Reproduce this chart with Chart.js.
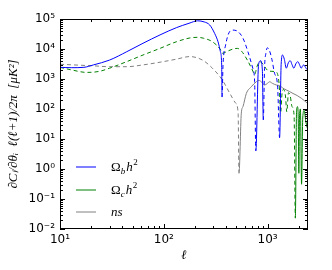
<!DOCTYPE html>
<html><head><meta charset="utf-8">
<script src="https://cdn.jsdelivr.net/npm/chart.js@4.4.1/dist/chart.umd.min.js"></script>
<style>html,body{margin:0;padding:0;background:#fff;}#wrap{width:332px;height:270px;}</style>
</head><body><div id="wrap"><canvas id="c" width="332" height="270"></canvas></div>
<script>
// ---- data (negative value = drawn dashed, |value| plotted) ----
const xTickValues = [10, 100, 1000];
const xTickLabels = ['10¹', '10²', '10³'];
const yTickValues = [1e-2, 1e-1, 1, 10, 100, 1e3, 1e4, 1e5];
const yTickLabels = ['10⁻²', '10⁻¹', '10⁰', '10¹', '10²', '10³', '10⁴', '10⁵'];
const seriesNames = ['Ωb h²', 'Ωc h²', 'ns'];

const ellOmegaB = [10,13,17,21,30,44,63,92,132,175,212,245,277,309,333,351,361,364,372,394,431,464,518,579,646,720,750,770,818,857,890,909,935,965,995,1040,1100,1167,1247,1305,1350,1395,1450,1514,1585,1653,1720,1790,1870,1955,2030,2108,2170,2233,2310,2388,2450];
const valOmegaB = [2450,2380,2450,2950,4270,8130,15500,29500,51300,72000,87000,80000,63000,33000,17400,8130,2950,250,-2950,-13500,-38000,-42700,-38000,-22900,-8130,-2290,-810,-4,3000,4070,2000,43,-2500,-7500,-11000,-9000,-4500,-1550,-600,-11,3000,6300,4500,2290,3500,4070,3000,2290,3200,3800,3000,2290,2700,2950,2500,2140,2400];

const ellOmegaC = [10,13,18,24,30,44,63,92,132,180,211,240,294,353,366,412,465,511,560,638,713,750,790,840,900,990,1100,1195,1290,1334,1380,1430,1490,1530,1590,1650,1720,1800,1850,1900,1941,1975,2000,2030,2070,2124,2180,2250,2330,2400,2450];
const valOmegaC = [-2450,-2000,-1660,-1800,-2290,-3800,-6300,-10500,-17400,-23500,-24500,-23000,-17400,-9300,-7200,-8500,-10000,-10500,-8500,-4270,-2000,-1400,-2600,-3800,-3200,-2000,-1800,-1740,-700,-75,-350,-450,-250,-80,-350,-280,-120,-60,-0.023,80,120,40,0.72,60,100,0.31,50,90,40,25,20];

const ellNs = [10,15,21,30,44,63,92,132,178,236,294,366,441,494,520,530,558,579,624,696,778,824,880,935,990,1045,1110,1213,1308,1400,1514,1630,1755,1930,2108,2300,2450];
const valNs = [-3100,-2900,-2750,-2570,-2570,-2950,-3630,-4570,-5600,-4270,-2290,-930,-295,-155,-72,-0.72,72,120,330,550,810,900,780,630,700,810,720,630,600,500,430,380,330,280,230,180,150];

const seriesColors = ['#0000ff', '#008000', '#808080'];

function makeDataset(ell, vals, color, label) {
  return {
    label: label,
    data: ell.map((l, i) => ({ x: l, y: Math.abs(vals[i]) })),
    borderColor: color,
    backgroundColor: color,
    borderWidth: 1,
    pointRadius: 0,
    fill: false,
    cubicInterpolationMode: 'monotone',
    segment: { borderDash: ctx => (vals[ctx.p1DataIndex] < 0 ? [4, 3] : []) }
  };
}

const frame = {
  id: 'frame',
  afterDatasetsDraw(chart) {
    const { ctx, chartArea: a, scales: { x, y } } = chart;
    ctx.save();
    ctx.setLineDash([]);
    ctx.strokeStyle = '#000';
    ctx.lineWidth = 1;
    ctx.beginPath();
    for (let e = 1; e <= 3; e++) for (let k = 1; k < 10; k++) {
      const v = k * Math.pow(10, e);
      if (v < x.min || v > x.max) continue;
      const px = Math.round(x.getPixelForValue(v)) + 0.5;
      const len = k === 1 ? 5 : 3;
      ctx.moveTo(px, a.bottom); ctx.lineTo(px, a.bottom - len);
      ctx.moveTo(px, a.top); ctx.lineTo(px, a.top + len);
    }
    for (let e = -2; e <= 5; e++) for (let k = 1; k < 10; k++) {
      const v = k * Math.pow(10, e);
      if (v < y.min * 0.999 || v > y.max * 1.001) continue;
      const py = Math.round(y.getPixelForValue(v)) + 0.5;
      const len = k === 1 ? 5 : 3;
      ctx.moveTo(a.left, py); ctx.lineTo(a.left + len, py);
      ctx.moveTo(a.right, py); ctx.lineTo(a.right - len, py);
    }
    ctx.stroke();
    ctx.strokeRect(a.left + 0.5, a.top + 0.5, a.right - a.left - 1, a.bottom - a.top - 1);
    // legend
    const lx = a.left + 16, ly0 = a.top + 148, dy = 22.5;
    seriesNames.forEach((name, i) => {
      const yy = Math.round(ly0 + i * dy);
      ctx.strokeStyle = seriesColors[i];
      ctx.beginPath(); ctx.moveTo(lx, yy); ctx.lineTo(lx + 20, yy); ctx.stroke();
      ctx.fillStyle = '#000';
      ctx.textBaseline = 'alphabetic';
      let tx = lx + 35;
      const base = yy + 4;
      if (i < 2) {
        ctx.font = '13px "Liberation Serif"';
        ctx.fillText('Ω', tx, base); tx += ctx.measureText('Ω').width;
        ctx.font = 'italic 9px "Liberation Serif"';
        const sub = i === 0 ? 'b' : 'c';
        ctx.fillText(sub, tx, base + 3); tx += ctx.measureText(sub).width + 1;
        ctx.font = 'italic 13px "Liberation Serif"';
        ctx.fillText('h', tx, base); tx += ctx.measureText('h').width;
        ctx.font = '9px "Liberation Serif"';
        ctx.fillText('2', tx + 0.5, base - 6);
      } else {
        ctx.font = 'italic 13px "Liberation Serif"';
        ctx.fillText('ns', tx, base);
      }
    });
    ctx.restore();
  }
};

new Chart(document.getElementById('c'), {
  type: 'line',
  data: {
    datasets: [
      makeDataset(ellOmegaB, valOmegaB, seriesColors[0], seriesNames[0]),
      makeDataset(ellOmegaC, valOmegaC, seriesColors[1], seriesNames[1]),
      makeDataset(ellNs, valNs, seriesColors[2], seriesNames[2])
    ]
  },
  options: {
    responsive: false,
    animation: false,
    layout: { padding: { top: 19, right: 24, left: 0, bottom: 0 } },
    plugins: { legend: { display: false }, tooltip: { enabled: false } },
    scales: {
      x: {
        type: 'logarithmic', min: 10, max: 2450,
        afterBuildTicks: s => { s.ticks = xTickValues.map(v => ({ value: v })); },
        afterFit: s => { s.height = 41; },
        grid: { display: false, drawTicks: false },
        border: { display: false },
        ticks: { autoSkip: false, maxRotation: 0, padding: 4, color: '#000',
          font: { family: 'DejaVu Sans', size: 12 },
          callback: (v, i) => xTickLabels[i] },
        title: { display: true, text: 'ℓ', color: '#000', padding: { top: 0, bottom: 7 },
          font: { family: 'Liberation Serif', style: 'italic', size: 13 } }
      },
      y: {
        type: 'logarithmic', min: 1e-2, max: 1e5,
        afterBuildTicks: s => { s.ticks = yTickValues.map(v => ({ value: v })); },
        afterFit: s => { s.width = 60; },
        grid: { display: false, drawTicks: false },
        border: { display: false },
        ticks: { autoSkip: false, padding: 5, color: '#000',
          font: { family: 'DejaVu Sans', size: 12 },
          callback: (v, i) => yTickLabels[i] },
        title: { display: true, text: '∂Cₗ/∂θᵢ  ℓ(ℓ+1)/2π  [μK²]', color: '#000',
          padding: { top: 6, bottom: 0 },
          font: { family: 'Liberation Serif', style: 'italic', size: 13 } }
      }
    }
  },
  plugins: [frame]
});
</script></body></html>
